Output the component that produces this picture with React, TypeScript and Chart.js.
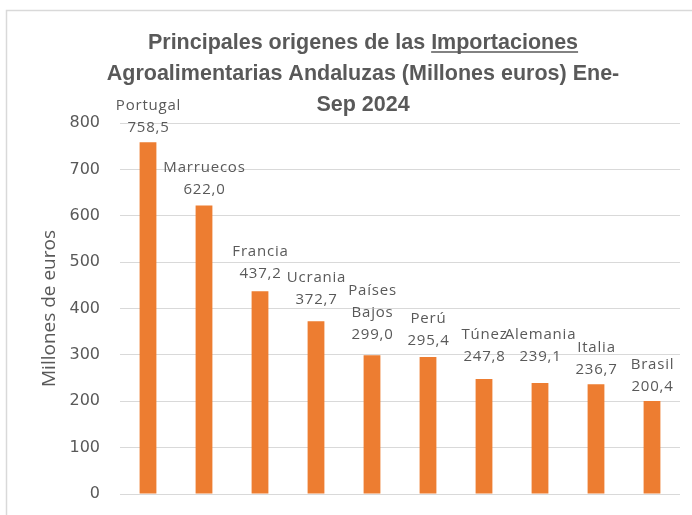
import React, { useEffect, useRef } from "react";
import { Chart, registerables } from "chart.js";

Chart.register(...registerables);

const countries = ["Portugal", "Marruecos", "Francia", "Ucrania", "Países Bajos", "Perú", "Túnez", "Alemania", "Italia", "Brasil"];
const values = [758.5, 622.0, 437.2, 372.7, 299.0, 295.4, 247.8, 239.1, 236.7, 200.4];
const titleLines = ["Principales origenes de las Importaciones", "Agroalimentarias Andaluzas (Millones euros) Ene-", "Sep 2024"];
const underlinedWord = "Importaciones";
const yAxisTitle = "Millones de euros";
const yMin = 0;
const yMax = 800;
const yStep = 100;

const GRAY = "#595959";
const BAR = "#ED7D31";

// extra lift (px) applied to individual data labels to avoid overlaps, as in the original
const LABEL_LIFT = [0, 2, 3, 7, 6, 2, 8, 12, 0, 0];

const fmt = (v: number) => v.toFixed(1).replace(".", ",");

const framePlugin = {
  id: "frame",
  beforeDraw(chart: any) {
    const ctx = chart.ctx;
    ctx.save();
    ctx.fillStyle = "#ffffff";
    ctx.fillRect(0, 0, chart.width, chart.height);
    ctx.strokeStyle = "#d9d9d9";
    ctx.lineWidth = 1.5;
    ctx.beginPath();
    ctx.moveTo(6.5, chart.height + 5);
    ctx.lineTo(6.5, 10.5);
    ctx.lineTo(chart.width + 5, 10.5);
    ctx.stroke();
    ctx.restore();
  },
};

const titlePlugin = {
  id: "customTitle",
  afterDraw(chart: any) {
    const ctx = chart.ctx;
    ctx.save();
    ctx.font = "bold 21.5px 'Liberation Sans', Arial, sans-serif";
    ctx.fillStyle = GRAY;
    ctx.textAlign = "left";
    ctx.textBaseline = "alphabetic";
    const cx = 363;
    const baselines = [49, 80, 111];
    titleLines.forEach((line, i) => {
      const w = ctx.measureText(line).width;
      const x0 = cx - w / 2;
      ctx.fillText(line, x0, baselines[i]);
      const idx = line.indexOf(underlinedWord);
      if (idx >= 0) {
        const pre = ctx.measureText(line.slice(0, idx)).width;
        const ww = ctx.measureText(underlinedWord).width;
        ctx.strokeStyle = GRAY;
        ctx.lineWidth = 1.5;
        ctx.beginPath();
        ctx.moveTo(x0 + pre, baselines[i] + 3);
        ctx.lineTo(x0 + pre + ww, baselines[i] + 3);
        ctx.stroke();
      }
    });
    ctx.restore();
  },
};

const labelPlugin = {
  id: "barLabels",
  afterDatasetsDraw(chart: any) {
    const ctx = chart.ctx;
    const meta = chart.getDatasetMeta(0);
    ctx.save();
    ctx.font = "15px 'Open Sans', sans-serif";
    (ctx as any).letterSpacing = "0.8px";
    ctx.fillStyle = GRAY;
    ctx.textAlign = "center";
    ctx.textBaseline = "alphabetic";
    const lh = 22;
    meta.data.forEach((bar: any, i: number) => {
      const lines = [...countries[i].split(" "), fmt(values[i])];
      let y = bar.y - 10 - (LABEL_LIFT[i] || 0);
      for (let k = lines.length - 1; k >= 0; k--) {
        ctx.fillText(lines[k], bar.x + 0.5, y);
        y -= lh;
      }
    });
    ctx.restore();
  },
};

export default function App() {
  const ref = useRef<HTMLCanvasElement | null>(null);
  useEffect(() => {
    if (!ref.current) return;
    const chart = new Chart(ref.current, {
      type: "bar",
      data: {
        labels: countries,
        datasets: [
          {
            data: values,
            backgroundColor: BAR,
            borderWidth: 0,
            barPercentage: 0.3,
            categoryPercentage: 1,
          },
        ],
      },
      options: {
        responsive: false,
        animation: false,
        devicePixelRatio: 1,
        layout: { padding: { top: 123, bottom: 21, left: 35, right: 12 } },
        plugins: {
          legend: { display: false },
          tooltip: { enabled: false },
          title: { display: false },
        },
        scales: {
          x: { display: false },
          y: {
            min: yMin,
            max: yMax,
            ticks: {
              stepSize: yStep,
              color: GRAY,
              padding: 20,
              font: { family: "'DejaVu Sans', sans-serif", size: 16 },
            },
            grid: { color: "#d9d9d9", drawTicks: false, lineWidth: 1 },
            border: { display: false },
            title: {
              display: true,
              text: yAxisTitle,
              color: GRAY,
              padding: { top: 3, bottom: 4 },
              font: { family: "'Open Sans', sans-serif", size: 19 },
            },
            afterFit(scale: any) {
              scale.width = 85;
              scale.paddingTop = 0;
              scale.paddingBottom = 0;
            },
          },
        },
      },
      plugins: [framePlugin, titlePlugin, labelPlugin],
    });
    return () => chart.destroy();
  }, []);
  return (
    <div style={{ position: "fixed", left: 0, top: 0, width: 692, height: 515, overflow: "hidden" }}>
      <canvas ref={ref} width={692} height={515} style={{ width: 692, height: 515, display: "block" }} />
    </div>
  );
}
